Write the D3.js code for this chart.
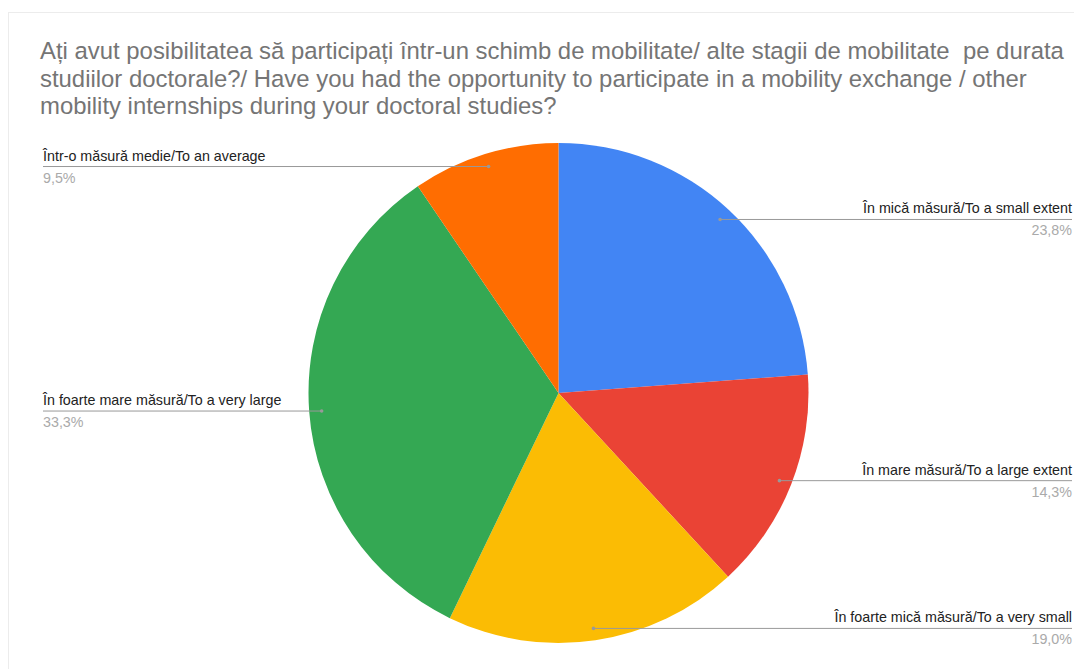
<!DOCTYPE html>
<html><head><meta charset="utf-8">
<script src="https://cdn.jsdelivr.net/npm/d3@7"></script>
<style>body{margin:0;background:#fff}svg{display:block}text{font-family:Arial,"Liberation Sans",sans-serif}</style>
</head><body>
<svg id="c" width="1074" height="669"></svg>
<script>
const titleLines = [
  "Ați avut posibilitatea să participați într-un schimb de mobilitate/ alte stagii de mobilitate  pe durata",
  "studiilor doctorale?/ Have you had the opportunity to participate in a mobility exchange / other",
  "mobility internships during your doctoral studies?"
];
const categories = [
  "În mică măsură/To a small extent",
  "În mare măsură/To a large extent",
  "În foarte mică măsură/To a very small",
  "În foarte mare măsură/To a very large",
  "Într-o măsură medie/To an average"
];
const values = [23.8, 14.3, 19.0, 33.3, 9.5];
const valueLabels = ["23,8%", "14,3%", "19,0%", "33,3%", "9,5%"];
const colors = ["#4285f4", "#ea4335", "#fbbc04", "#34a853", "#ff6d01"];

const svg = d3.select("#c");
svg.append("rect").attr("x",8.5).attr("y",12.5).attr("width",1080).attr("height",680)
  .attr("fill","none").attr("stroke","#ececec");

svg.append("g").selectAll("text").data(titleLines).join("text")
  .attr("x",40).attr("y",(d,i)=>59+i*27.5)
  .attr("font-size",23.9).attr("fill","#757575")
  .style("white-space","pre").text(d=>d);

const cx = 558.5, cy = 393, r = 250;
const pie = d3.pie().sort(null).value(d=>d)(values);
const arc = d3.arc().innerRadius(0).outerRadius(r);
const g = svg.append("g").attr("transform",`translate(${cx},${cy})`);
g.selectAll("path").data(pie).join("path")
  .attr("d",arc).attr("fill",(d,i)=>colors[i]);

const dotArc = d3.arc().innerRadius(r*0.95).outerRadius(r*0.95);
const leftX = 43, rightX = 1072;
const lab = svg.append("g");
pie.forEach((d,i)=>{
  const [px,py] = dotArc.centroid(d);
  const x = cx+px, y = cy+py+0.5;
  const right = x > cx;
  const ex = right ? rightX : leftX;
  lab.append("line").attr("x1",x).attr("y1",y).attr("x2",ex).attr("y2",y)
    .attr("stroke","#999").attr("stroke-width",1);
  lab.append("circle").attr("cx",x).attr("cy",y).attr("r",1.8).attr("fill","#999");
  lab.append("text").attr("x",ex).attr("y",y-6)
    .attr("text-anchor",right?"end":"start").attr("font-size",14.3).attr("fill","#222")
    .text(categories[i]);
  lab.append("text").attr("x",ex).attr("y",y+16)
    .attr("text-anchor",right?"end":"start").attr("font-size",14.3).attr("fill","#aaa")
    .text(valueLabels[i]);
});
</script>
</body></html>
